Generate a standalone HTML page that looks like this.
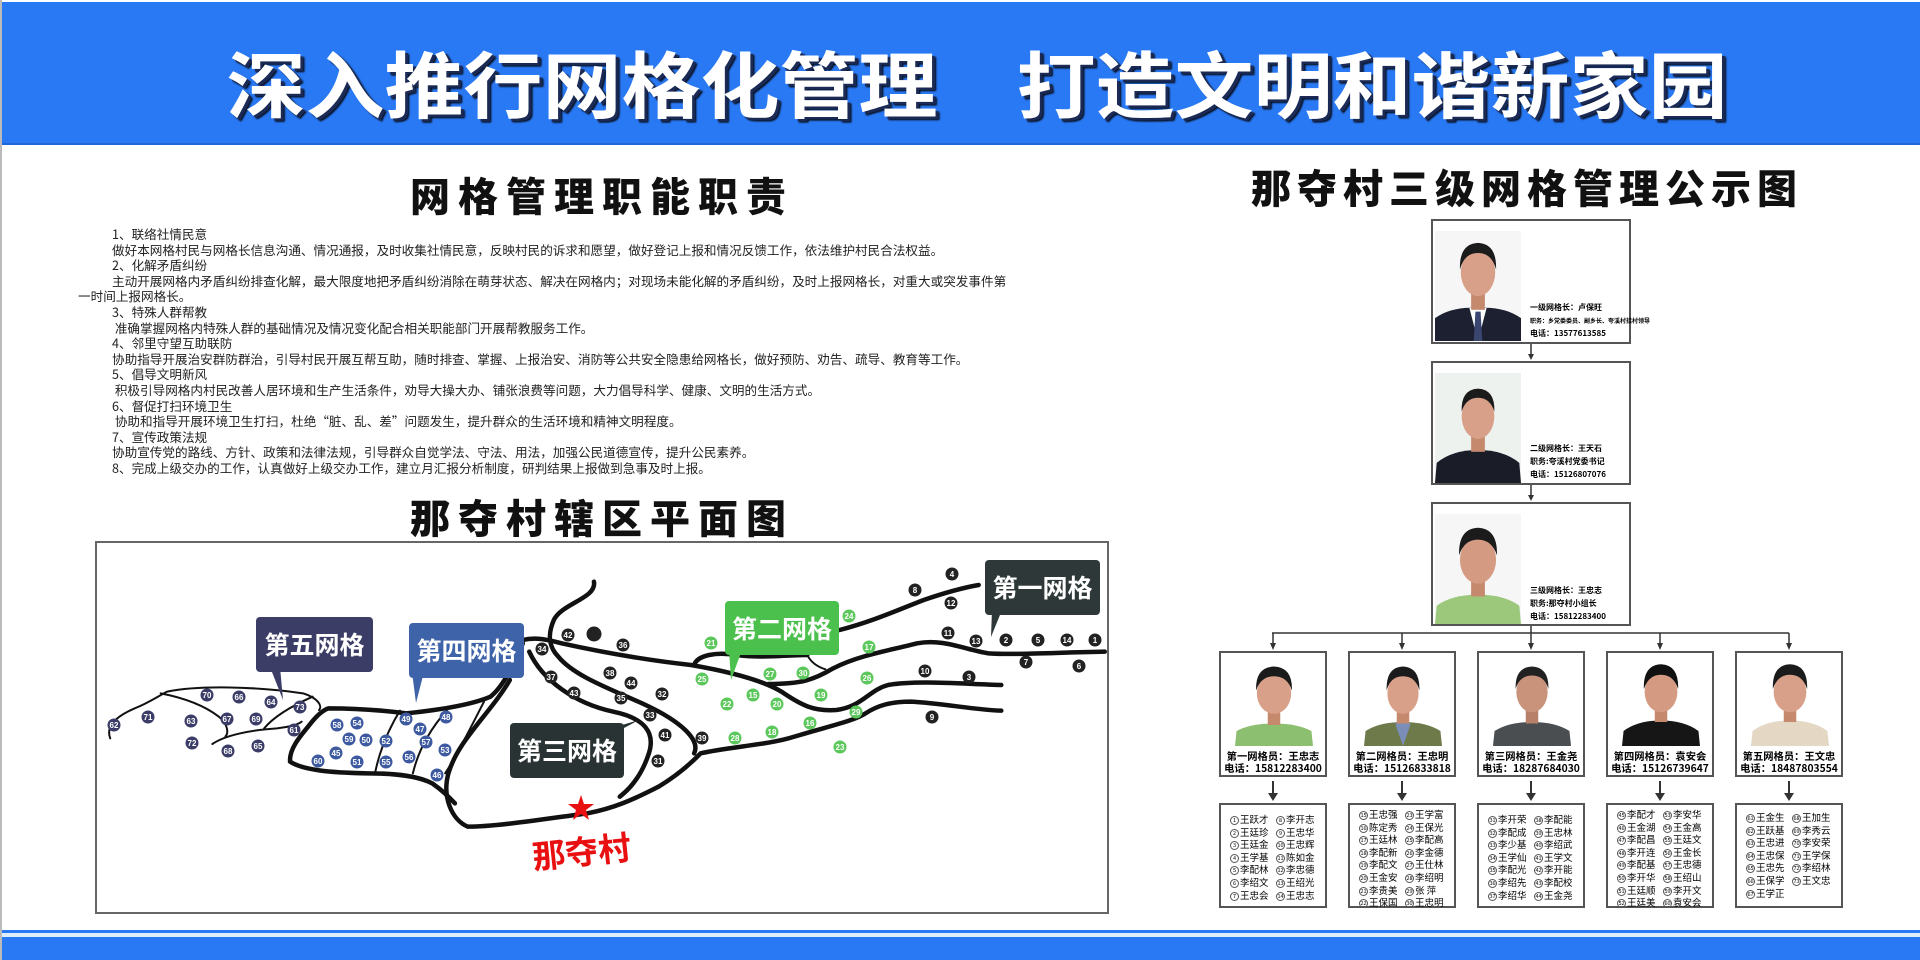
<!DOCTYPE html>
<html><head><meta charset="utf-8"><style>
*{margin:0;padding:0;box-sizing:border-box}
body{width:1920px;height:960px;overflow:hidden;background:#fff;position:relative;font-family:"Liberation Sans","Noto Sans CJK SC",sans-serif;border-left:2px solid #bbb}
.abs{position:absolute}
#hdr{left:0;top:2px;width:1920px;height:143px;background:#2a79f4;border-bottom:2px solid #1f66d8}
#title{left:0;top:36px;width:1920px;text-align:center;color:#fff;font-weight:bold;font-size:79px;line-height:90px;white-space:pre;text-shadow:3px 3px 0 #1a2a55,4px 4px 2px #000;transform:scaleY(0.92);font-family:"Noto Sans CJK SC",sans-serif;padding-left:30px}
.h2{font-weight:900;font-size:40px;line-height:44px;white-space:nowrap;font-family:"Noto Sans CJK SC",sans-serif;color:#111}
.txt{left:110px;top:226px;font-size:12.6px;line-height:15.6px;color:#222;white-space:nowrap;font-family:"Noto Sans CJK SC",sans-serif}
.lv{position:absolute;left:1429px;width:200px;border:2px solid #555;background:#fff}
.lv svg{position:absolute;left:2px;top:10px;width:86px;height:110px}
.lv .t{position:absolute;left:97px;font-size:8px;line-height:13px;font-weight:bold;white-space:nowrap;font-family:"Noto Sans CJK SC",sans-serif}
.mb{position:absolute;top:651px;width:108px;height:126px;border:2px solid #555;background:#fff}
.mb svg{position:absolute;left:14px;top:3px;width:78px;height:90px}
.mb .n{position:absolute;left:0;top:97px;width:104px;text-align:center;font-size:10.3px;line-height:12px;font-weight:bold;white-space:nowrap;font-family:"Noto Sans CJK SC",sans-serif}
.lb{position:absolute;top:803px;width:108px;height:105px;border:2px solid #555;background:#fff;font-size:9.5px;line-height:12.6px;font-family:"Noto Sans CJK SC",sans-serif;padding:3px 0 0 9px;white-space:nowrap}
.lb .c{float:left;width:46px}
.lb i{font-style:normal;display:inline-block;width:9px;height:9px;border:1px solid #555;border-radius:50%;font-size:5.5px;line-height:7px;text-align:center;vertical-align:1px;margin-right:1px}
.cl{position:absolute;color:#fff;font-weight:bold;font-size:25px;line-height:54px;text-align:center;border-radius:4px;font-family:"Noto Sans CJK SC",sans-serif}
</style></head><body>
<div id="hdr" class="abs"></div>
<div id="title" class="abs">深入推行网格化管理　打造文明和谐新家园</div>

<div class="abs h2" style="left:408px;top:172px;letter-spacing:8px">网格管理职能职责</div>
<div class="abs h2" style="left:408px;top:494px;letter-spacing:8px">那夺村辖区平面图</div>
<div class="abs h2" style="left:1249px;top:164px;letter-spacing:6px">那夺村三级网格管理公示图</div>

<div class="abs txt">1、联络社情民意<br>做好本网格村民与网格长信息沟通、情况通报，及时收集社情民意，反映村民的诉求和愿望，做好登记上报和情况反馈工作，依法维护村民合法权益。<br>2、化解矛盾纠纷<br>主动开展网格内矛盾纠纷排查化解，最大限度地把矛盾纠纷消除在萌芽状态、解决在网格内；对现场未能化解的矛盾纠纷，及时上报网格长，对重大或突发事件第<br><span style="margin-left:-34px">一时间上报网格长。</span><br>3、特殊人群帮教<br>&nbsp;准确掌握网格内特殊人群的基础情况及情况变化配合相关职能部门开展帮教服务工作。<br>4、邻里守望互助联防<br>协助指导开展治安群防群治，引导村民开展互帮互助，随时排查、掌握、上报治安、消防等公共安全隐患给网格长，做好预防、劝告、疏导、教育等工作。<br>5、倡导文明新风<br>&nbsp;积极引导网格内村民改善人居环境和生产生活条件，劝导大操大办、铺张浪费等问题，大力倡导科学、健康、文明的生活方式。<br>6、督促打扫环境卫生<br>&nbsp;协助和指导开展环境卫生打扫，杜绝“脏、乱、差”问题发生，提升群众的生活环境和精神文明程度。<br>7、宣传政策法规<br>协助宣传党的路线、方针、政策和法律法规，引导群众自觉学法、守法、用法，加强公民道德宣传，提升公民素养。<br>8、完成上级交办的工作，认真做好上级交办工作，建立月汇报分析制度，研判结果上报做到急事及时上报。</div>

<!-- map box -->
<div class="abs" style="left:93px;top:541px;width:1014px;height:373px;border:2px solid #666"></div>
<svg class="abs" style="left:94px;top:540px" width="1012" height="375" viewBox="0 0 1565 1125" preserveAspectRatio="none">
<g fill="none" stroke="#111" stroke-linecap="round" stroke-linejoin="round">
<g stroke-width="4.5">
<path vector-effect="non-scaling-stroke" d="M770,125 C775,175 720,190 708,240 C698,285 700,320 715,350 C740,410 800,450 850,495 C905,545 935,600 925,640"/>
<path vector-effect="non-scaling-stroke" d="M660,300 C680,290 700,300 720,310 C790,340 850,360 920,375 C980,395 1030,420 1060,455 C1090,495 1110,515 1145,510 C1185,500 1195,450 1225,435 C1270,420 1340,432 1400,435"/>
<path vector-effect="non-scaling-stroke" d="M670,335 C690,420 740,490 800,515 C850,535 865,580 855,640 C845,700 830,740 810,770"/>
<path vector-effect="non-scaling-stroke" d="M640,420 C610,520 560,600 545,700 C535,770 550,840 575,860 C620,860 700,835 760,820 C800,805 830,780 870,740 C900,705 920,670 935,640 C980,620 1040,615 1080,590 C1130,560 1170,545 1190,520 C1210,495 1230,485 1260,485 C1310,490 1360,510 1400,512"/>
<path vector-effect="non-scaling-stroke" d="M300,660 C300,620 320,580 330,555 C340,530 350,510 360,505 C400,505 440,510 480,520 C530,510 580,495 610,470 C630,440 650,360 660,310"/>
<path vector-effect="non-scaling-stroke" d="M300,665 C320,690 360,698 420,700 C470,700 500,710 520,730 C535,750 545,770 555,790"/>
<path vector-effect="non-scaling-stroke" d="M925,375 C930,345 960,335 990,345 C1030,355 1070,345 1100,345"/>
<path vector-effect="non-scaling-stroke" d="M1040,432 C1090,432 1110,420 1140,385 C1180,345 1230,330 1270,310 C1310,295 1345,330 1380,340 C1420,345 1480,338 1560,335"/>
<path vector-effect="non-scaling-stroke" d="M1150,270 C1200,245 1240,210 1280,180 C1310,160 1335,145 1365,135"/>
</g>
<g stroke-width="2">
<path vector-effect="non-scaling-stroke" d="M22,595 C15,560 30,530 60,505 C80,490 95,470 110,455 C160,435 250,440 320,460 C345,475 350,500 345,510"/>
<path vector-effect="non-scaling-stroke" d="M100,460 C140,475 170,500 190,530 C205,555 205,580 200,590"/>
<path vector-effect="non-scaling-stroke" d="M180,612 C200,585 240,570 280,565 C300,560 312,555 318,545"/>
<path vector-effect="non-scaling-stroke" d="M335,470 C300,500 275,530 260,565"/>
<path vector-effect="non-scaling-stroke" d="M470,512 C455,560 440,620 432,695"/>
<path vector-effect="non-scaling-stroke" d="M545,505 C520,560 500,620 490,700"/>
<path vector-effect="non-scaling-stroke" d="M600,485 C580,560 560,640 540,700"/>
<path vector-effect="non-scaling-stroke" d="M1100,345 C1105,365 1115,380 1128,388"/>
</g></g></svg>

<svg class="abs" style="left:0;top:0" width="1920" height="960">
<g font-family="Liberation Sans,sans-serif" font-size="8" font-weight="bold" text-anchor="middle" fill="#fff">
<g><circle cx="950" cy="574" r="6.5" fill="#222"/><text x="950" y="577">4</text>
<circle cx="913" cy="590" r="6.5" fill="#222"/><text x="913" y="593">8</text>
<circle cx="949" cy="603" r="6.5" fill="#222"/><text x="949" y="606">12</text>
<circle cx="946" cy="633" r="6.5" fill="#222"/><text x="946" y="636">11</text>
<circle cx="974" cy="641" r="6.5" fill="#222"/><text x="974" y="644">13</text>
<circle cx="1004" cy="640" r="6.5" fill="#222"/><text x="1004" y="643">2</text>
<circle cx="1036" cy="640" r="6.5" fill="#222"/><text x="1036" y="643">5</text>
<circle cx="1065" cy="640" r="6.5" fill="#222"/><text x="1065" y="643">14</text>
<circle cx="1093" cy="640" r="6.5" fill="#222"/><text x="1093" y="643">1</text>
<circle cx="1024" cy="662" r="6.5" fill="#222"/><text x="1024" y="665">7</text>
<circle cx="1077" cy="666" r="6.5" fill="#222"/><text x="1077" y="669">6</text>
<circle cx="923" cy="671" r="6.5" fill="#222"/><text x="923" y="674">10</text>
<circle cx="967" cy="677" r="6.5" fill="#222"/><text x="967" y="680">3</text>
<circle cx="930" cy="717" r="6.5" fill="#222"/><text x="930" y="720">9</text>
<circle cx="566" cy="635" r="6.5" fill="#222"/><text x="566" y="638">42</text>
<circle cx="592" cy="634" r="7.5" fill="#222"/>
<circle cx="621" cy="645" r="6.5" fill="#222"/><text x="621" y="648">36</text>
<circle cx="540" cy="649" r="6.5" fill="#222"/><text x="540" y="652">34</text>
<circle cx="549" cy="677" r="6.5" fill="#222"/><text x="549" y="680">37</text>
<circle cx="608" cy="673" r="6.5" fill="#222"/><text x="608" y="676">38</text>
<circle cx="629" cy="683" r="6.5" fill="#222"/><text x="629" y="686">44</text>
<circle cx="572" cy="693" r="6.5" fill="#222"/><text x="572" y="696">43</text>
<circle cx="619" cy="698" r="6.5" fill="#222"/><text x="619" y="701">35</text>
<circle cx="660" cy="694" r="6.5" fill="#222"/><text x="660" y="697">32</text>
<circle cx="648" cy="715" r="6.5" fill="#222"/><text x="648" y="718">33</text>
<circle cx="663" cy="735" r="6.5" fill="#222"/><text x="663" y="738">41</text>
<circle cx="700" cy="738" r="6.5" fill="#222"/><text x="700" y="741">39</text>
<circle cx="656" cy="761" r="6.5" fill="#222"/><text x="656" y="764">31</text></g>
<g><circle cx="847" cy="616" r="6.5" fill="#5cc85c"/><text x="847" y="619">24</text>
<circle cx="709" cy="643" r="6.5" fill="#5cc85c"/><text x="709" y="646">21</text>
<circle cx="867" cy="647" r="6.5" fill="#5cc85c"/><text x="867" y="650">17</text>
<circle cx="700" cy="679" r="6.5" fill="#5cc85c"/><text x="700" y="682">25</text>
<circle cx="768" cy="674" r="6.5" fill="#5cc85c"/><text x="768" y="677">27</text>
<circle cx="801" cy="673" r="6.5" fill="#5cc85c"/><text x="801" y="676">30</text>
<circle cx="865" cy="678" r="6.5" fill="#5cc85c"/><text x="865" y="681">26</text>
<circle cx="725" cy="704" r="6.5" fill="#5cc85c"/><text x="725" y="707">22</text>
<circle cx="751" cy="695" r="6.5" fill="#5cc85c"/><text x="751" y="698">15</text>
<circle cx="775" cy="704" r="6.5" fill="#5cc85c"/><text x="775" y="707">20</text>
<circle cx="819" cy="695" r="6.5" fill="#5cc85c"/><text x="819" y="698">19</text>
<circle cx="854" cy="712" r="6.5" fill="#5cc85c"/><text x="854" y="715">29</text>
<circle cx="808" cy="723" r="6.5" fill="#5cc85c"/><text x="808" y="726">16</text>
<circle cx="770" cy="732" r="6.5" fill="#5cc85c"/><text x="770" y="735">18</text>
<circle cx="733" cy="738" r="6.5" fill="#5cc85c"/><text x="733" y="741">28</text>
<circle cx="838" cy="747" r="6.5" fill="#5cc85c"/><text x="838" y="750">23</text></g>
<g><circle cx="404" cy="719" r="6.5" fill="#3d5aa0"/><text x="404" y="722">49</text>
<circle cx="444" cy="717" r="6.5" fill="#3d5aa0"/><text x="444" y="720">48</text>
<circle cx="418" cy="729" r="6.5" fill="#3d5aa0"/><text x="418" y="732">47</text>
<circle cx="335" cy="725" r="6.5" fill="#3d5aa0"/><text x="335" y="728">58</text>
<circle cx="355" cy="723" r="6.5" fill="#3d5aa0"/><text x="355" y="726">54</text>
<circle cx="347" cy="739" r="6.5" fill="#3d5aa0"/><text x="347" y="742">59</text>
<circle cx="364" cy="740" r="6.5" fill="#3d5aa0"/><text x="364" y="743">50</text>
<circle cx="384" cy="741" r="6.5" fill="#3d5aa0"/><text x="384" y="744">52</text>
<circle cx="424" cy="742" r="6.5" fill="#3d5aa0"/><text x="424" y="745">57</text>
<circle cx="443" cy="750" r="6.5" fill="#3d5aa0"/><text x="443" y="753">53</text>
<circle cx="334" cy="753" r="6.5" fill="#3d5aa0"/><text x="334" y="756">45</text>
<circle cx="407" cy="757" r="6.5" fill="#3d5aa0"/><text x="407" y="760">56</text>
<circle cx="316" cy="761" r="6.5" fill="#3d5aa0"/><text x="316" y="764">60</text>
<circle cx="355" cy="762" r="6.5" fill="#3d5aa0"/><text x="355" y="765">51</text>
<circle cx="384" cy="762" r="6.5" fill="#3d5aa0"/><text x="384" y="765">55</text>
<circle cx="435" cy="775" r="6.5" fill="#3d5aa0"/><text x="435" y="778">46</text></g>
<g><circle cx="205" cy="695" r="6.5" fill="#3b3d68"/><text x="205" y="698">70</text>
<circle cx="237" cy="697" r="6.5" fill="#3b3d68"/><text x="237" y="700">66</text>
<circle cx="269" cy="702" r="6.5" fill="#3b3d68"/><text x="269" y="705">64</text>
<circle cx="298" cy="707" r="6.5" fill="#3b3d68"/><text x="298" y="710">73</text>
<circle cx="146" cy="717" r="6.5" fill="#3b3d68"/><text x="146" y="720">71</text>
<circle cx="189" cy="721" r="6.5" fill="#3b3d68"/><text x="189" y="724">63</text>
<circle cx="225" cy="719" r="6.5" fill="#3b3d68"/><text x="225" y="722">67</text>
<circle cx="254" cy="719" r="6.5" fill="#3b3d68"/><text x="254" y="722">69</text>
<circle cx="292" cy="730" r="6.5" fill="#3b3d68"/><text x="292" y="733">61</text>
<circle cx="112" cy="725" r="6.5" fill="#3b3d68"/><text x="112" y="728">62</text>
<circle cx="190" cy="743" r="6.5" fill="#3b3d68"/><text x="190" y="746">72</text>
<circle cx="226" cy="751" r="6.5" fill="#3b3d68"/><text x="226" y="754">68</text>
<circle cx="256" cy="746" r="6.5" fill="#3b3d68"/><text x="256" y="749">65</text></g>
</g>
<polygon points="990,610 1000,610 989,637" fill="#2e3838"/>
<polygon points="727,650 740,650 729,680" fill="#4cc04c"/>
<polygon points="610,728 622,728 637,720" fill="#2a3333"/>
<polygon points="410,672 422,672 414,703" fill="#3e63a8"/>
<polygon points="268,667 278,667 281,700" fill="#3b3d66"/>
<polygon points="579,795 582,804 592,804 584,810 587,820 579,814 571,820 574,810 566,804 576,804" fill="#e81010"/>
<g stroke="#333" stroke-width="1.5" fill="#333">
<line x1="1529" y1="344" x2="1529" y2="355"/><polygon points="1526,354 1532,354 1529,360" stroke="none"/>
<line x1="1529" y1="485" x2="1529" y2="496"/><polygon points="1526,495 1532,495 1529,501" stroke="none"/>
<line x1="1529" y1="626" x2="1529" y2="633"/>
<line x1="1270" y1="633" x2="1787" y2="633"/>
<g>
<line x1="1271" y1="633" x2="1271" y2="644"/><polygon points="1268,643 1274,643 1271,650" stroke="none"/>
<line x1="1400" y1="633" x2="1400" y2="644"/><polygon points="1397,643 1403,643 1400,650" stroke="none"/>
<line x1="1529" y1="633" x2="1529" y2="644"/><polygon points="1526,643 1532,643 1529,650" stroke="none"/>
<line x1="1658" y1="633" x2="1658" y2="644"/><polygon points="1655,643 1661,643 1658,650" stroke="none"/>
<line x1="1787" y1="633" x2="1787" y2="644"/><polygon points="1784,643 1790,643 1787,650" stroke="none"/>
</g>
<g stroke-width="2">
<line x1="1271" y1="781" x2="1271" y2="794"/><polygon points="1266,793 1276,793 1271,801" stroke="none"/>
<line x1="1400" y1="781" x2="1400" y2="794"/><polygon points="1395,793 1405,793 1400,801" stroke="none"/>
<line x1="1529" y1="781" x2="1529" y2="794"/><polygon points="1524,793 1534,793 1529,801" stroke="none"/>
<line x1="1658" y1="781" x2="1658" y2="794"/><polygon points="1653,793 1663,793 1658,801" stroke="none"/>
<line x1="1787" y1="781" x2="1787" y2="794"/><polygon points="1782,793 1792,793 1787,801" stroke="none"/>
</g></g>
</svg>

<div class="cl" style="left:983px;top:560px;width:115px;height:55px;background:#2e3838">第一网格</div>
<div class="cl" style="left:723px;top:601px;width:114px;height:54px;background:#4cc04c">第二网格</div>
<div class="cl" style="left:508px;top:723px;width:114px;height:55px;background:#2a3333">第三网格</div>
<div class="cl" style="left:407px;top:623px;width:115px;height:55px;background:#3e63a8">第四网格</div>
<div class="cl" style="left:254px;top:617px;width:117px;height:55px;background:#3b3d66">第五网格</div>
<div class="abs" style="left:530px;top:830px;color:#e81010;font-size:33px;font-weight:bold;transform:rotate(-6deg);font-family:'Noto Sans CJK SC',sans-serif;line-height:40px">那夺村</div>

<div class="lv" style="top:219px;height:125px">
<svg viewBox="0 0 100 120" preserveAspectRatio="none"><rect width="100" height="120" fill="#f6f6f6"/><path d="M0 120 L0 95 Q20 82 50 84 Q80 82 100 95 L100 120Z" fill="#1d2030"/><path d="M40 84 L50 120 L60 84Z" fill="#fff"/><path d="M47 88 L53 88 L55 120 L45 120Z" fill="#3a4670"/><rect x="42" y="66" width="16" height="20" fill="#c58a6e"/><ellipse cx="50" cy="45" rx="20" ry="26" fill="#d9a089"/><path d="M29 42 Q28 14 50 13 Q72 14 71 42 Q66 24 50 24 Q34 24 29 42Z" fill="#1b1b1b"/></svg>
<div class="t" style="top:80px">一级网格长：卢保旺<br><span style="font-size:6px">职务：乡党委委员、副乡长、夸溪村挂村领导</span><br>电话：13577613585</div></div>
<div class="lv" style="top:361px;height:124px">
<svg viewBox="0 0 100 120" preserveAspectRatio="none"><rect width="100" height="120" fill="#eef2ee"/><path d="M0 120 L2 98 Q20 84 50 84 Q80 84 98 98 L100 120Z" fill="#1a1c28"/><rect x="42" y="68" width="16" height="18" fill="#c58a6e"/><ellipse cx="50" cy="47" rx="19" ry="25" fill="#d9a089"/><path d="M31 42 Q30 18 50 17 Q70 18 69 42 Q64 27 50 27 Q36 27 31 42Z" fill="#1b1b1b"/></svg>
<div class="t" style="top:79px">二级网格长：王天石<br>职务:夸溪村党委书记<br>电话：15126807076</div></div>
<div class="lv" style="top:502px;height:124px">
<svg viewBox="0 0 100 120" preserveAspectRatio="none"><rect width="100" height="120" fill="#f6f6f6"/><path d="M0 120 L2 100 Q20 88 50 88 Q80 88 98 100 L100 120Z" fill="#9cc87c"/><rect x="42" y="70" width="16" height="20" fill="#c58a6e"/><ellipse cx="50" cy="50" rx="21" ry="26" fill="#d59a82"/><path d="M28 45 Q27 16 50 15 Q73 16 72 45 Q66 28 50 28 Q34 28 28 45Z" fill="#1b1b1b"/></svg>
<div class="t" style="top:80px">三级网格长：王忠志<br>职务:那夺村小组长<br>电话：15812283400</div></div>

<div class="mb" style="left:1217px"><svg viewBox="0 0 100 120" preserveAspectRatio="none"><rect width="100" height="120" fill="#fff"/><path d="M0 120 L2 100 Q20 90 50 90 Q80 90 98 100 L100 120Z" fill="#8cc070"/><rect x="42" y="72" width="16" height="20" fill="#c58a6e"/><ellipse cx="50" cy="50" rx="22" ry="27" fill="#d9a089"/><path d="M27 46 Q26 15 50 14 Q74 15 73 46 Q67 27 50 27 Q33 27 27 46Z" fill="#1b1b1b"/></svg><div class="n">第一网格员：王忠志<br>电话：15812283400</div></div>
<div class="mb" style="left:1346px"><svg viewBox="0 0 100 120" preserveAspectRatio="none"><rect width="100" height="120" fill="#fff"/><path d="M0 120 L2 100 Q20 88 50 88 Q80 88 98 100 L100 120Z" fill="#6e7a4a"/><path d="M40 90 L50 120 L60 90Z" fill="#7b8eb8"/><rect x="42" y="70" width="16" height="20" fill="#c58a6e"/><ellipse cx="50" cy="50" rx="20" ry="27" fill="#d9a089"/><path d="M29 46 Q28 15 50 14 Q72 15 71 46 Q66 27 50 27 Q34 27 29 46Z" fill="#1b1b1b"/></svg><div class="n">第二网格员：王忠明<br>电话：15126833818</div></div>
<div class="mb" style="left:1475px"><svg viewBox="0 0 100 120" preserveAspectRatio="none"><rect width="100" height="120" fill="#fff"/><path d="M0 120 L2 100 Q20 88 50 88 Q80 88 98 100 L100 120Z" fill="#4a4e50"/><rect x="42" y="70" width="16" height="20" fill="#b88068"/><ellipse cx="50" cy="48" rx="20" ry="27" fill="#c9927a"/><path d="M29 44 Q28 15 50 14 Q72 15 71 44 Q66 26 50 26 Q34 26 29 44Z" fill="#222"/></svg><div class="n">第三网格员：王金尧<br>电话：18287684030</div></div>
<div class="mb" style="left:1604px"><svg viewBox="0 0 100 120" preserveAspectRatio="none"><rect width="100" height="120" fill="#fff"/><path d="M0 120 L2 100 Q20 86 50 86 Q80 86 98 100 L100 120Z" fill="#161616"/><rect x="42" y="68" width="16" height="20" fill="#c58a6e"/><ellipse cx="50" cy="48" rx="21" ry="27" fill="#d59a82"/><path d="M28 44 Q27 12 50 11 Q73 12 72 44 Q66 25 50 25 Q34 25 28 44Z" fill="#111"/></svg><div class="n">第四网格员：袁安会<br>电话：15126739647</div></div>
<div class="mb" style="left:1733px"><svg viewBox="0 0 100 120" preserveAspectRatio="none"><rect width="100" height="120" fill="#fff"/><path d="M0 120 L2 100 Q20 86 50 86 Q80 86 98 100 L100 120Z" fill="#e4d8c4"/><rect x="42" y="68" width="16" height="20" fill="#c58a6e"/><ellipse cx="50" cy="48" rx="21" ry="27" fill="#d9a089"/><path d="M28 44 Q27 12 50 11 Q73 12 72 44 Q66 25 50 25 Q34 25 28 44Z" fill="#1b1b1b"/></svg><div class="n">第五网格员：王文忠<br>电话：18487803554</div></div>

<div class="lb" style="left:1217px;padding-top:8px"><div class="c"><i>1</i>王跃才<br><i>2</i>王廷珍<br><i>3</i>王廷金<br><i>4</i>王学基<br><i>5</i>李配林<br><i>6</i>李绍文<br><i>7</i>王忠会</div><div class="c"><i>8</i>李开志<br><i>9</i>王忠华<br><i>10</i>王忠辉<br><i>11</i>陈如金<br><i>12</i>李忠德<br><i>13</i>王绍光<br><i>14</i>王忠志</div></div>
<div class="lb" style="left:1346px"><div class="c"><i>15</i>王忠强<br><i>16</i>陈定秀<br><i>17</i>王廷林<br><i>18</i>李配新<br><i>19</i>李配文<br><i>20</i>王金安<br><i>21</i>李贵美<br><i>22</i>王保国</div><div class="c"><i>23</i>王学富<br><i>24</i>王保光<br><i>25</i>李配高<br><i>26</i>李金德<br><i>27</i>王仕林<br><i>28</i>李绍明<br><i>29</i>张 萍<br><i>30</i>王忠明</div></div>
<div class="lb" style="left:1475px;padding-top:8px"><div class="c"><i>31</i>李开荣<br><i>32</i>李配成<br><i>33</i>李少基<br><i>34</i>王学仙<br><i>35</i>李配光<br><i>36</i>李绍先<br><i>37</i>李绍华</div><div class="c"><i>38</i>李配能<br><i>39</i>王忠林<br><i>40</i>李绍武<br><i>41</i>王学文<br><i>42</i>李开能<br><i>43</i>李配校<br><i>44</i>王金尧</div></div>
<div class="lb" style="left:1604px"><div class="c"><i>45</i>李配才<br><i>46</i>王金湖<br><i>47</i>李配昌<br><i>48</i>李开连<br><i>49</i>李配基<br><i>50</i>李开华<br><i>51</i>王廷顺<br><i>52</i>王廷美</div><div class="c"><i>53</i>李安华<br><i>54</i>王金高<br><i>55</i>王廷文<br><i>56</i>王金长<br><i>57</i>王忠德<br><i>58</i>王绍山<br><i>59</i>李开文<br><i>60</i>袁安会</div></div>
<div class="lb" style="left:1733px;padding-top:6px"><div class="c"><i>61</i>王金生<br><i>62</i>王跃基<br><i>63</i>王忠进<br><i>64</i>王忠保<br><i>65</i>王忠先<br><i>66</i>王保学<br><i>67</i>王学正</div><div class="c"><i>68</i>王加生<br><i>69</i>李秀云<br><i>70</i>李安荣<br><i>71</i>王学保<br><i>72</i>李绍林<br><i>73</i>王文忠</div></div>

<div class="abs" style="left:0;top:930px;width:1920px;height:3px;background:#2a79f4"></div>
<div class="abs" style="left:0;top:933px;width:1920px;height:4px;background:#dfeeff"></div>
<div class="abs" style="left:0;top:937px;width:1920px;height:23px;background:#2a79f4"></div>
</body></html>
